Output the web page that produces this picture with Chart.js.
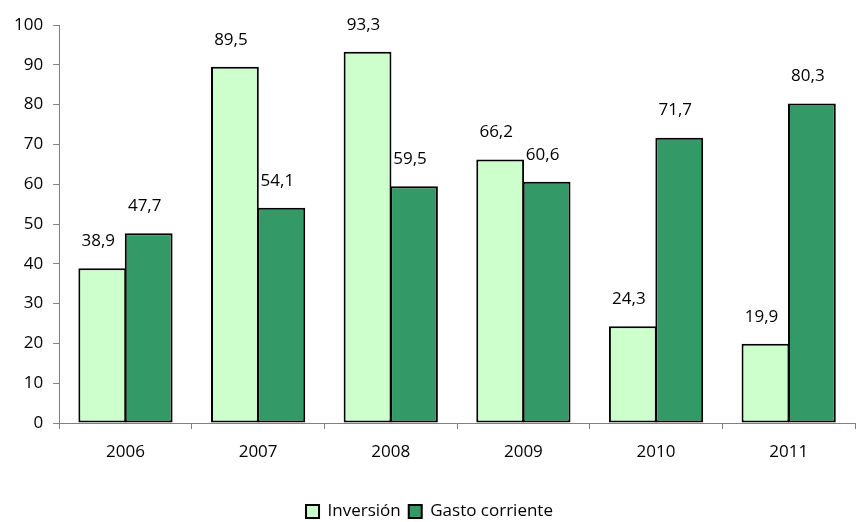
<!DOCTYPE html>
<html>
<head>
<meta charset="utf-8">
<script src="https://cdn.jsdelivr.net/npm/chart.js@4/dist/chart.umd.min.js"></script>
<style>
  html, body { margin: 0; padding: 0; background: #fff; }
  #wrap { width: 857px; height: 522px; }
</style>
</head>
<body>
<div id="wrap"><canvas id="myChart" width="857" height="522"></canvas></div>
<script>
const years = ['2006', '2007', '2008', '2009', '2010', '2011'];
const inversion = [38.9, 89.5, 93.3, 66.2, 24.3, 19.9];
const gastoCorriente = [47.7, 54.1, 59.5, 60.6, 71.7, 80.3];
const yTicks = [0, 10, 20, 30, 40, 50, 60, 70, 80, 90, 100];

const fontFamily = "'Open Sans', 'Liberation Sans', sans-serif";
Chart.defaults.font.family = fontFamily;
Chart.defaults.font.size = 17;
Chart.defaults.color = '#000';

// etiquetas de valor encima de cada barra
const valueLabels = {
    id: 'valueLabels',
    afterDatasetsDraw(chart) {
        const ctx = chart.ctx;
        ctx.save();
        ctx.font = '17px ' + fontFamily;
        ctx.fillStyle = '#000';
        ctx.textAlign = 'center';
        ctx.textBaseline = 'middle';
        chart.data.datasets.forEach((ds, i) => {
            chart.getDatasetMeta(i).data.forEach((bar, j) => {
                const txt = ds.data[j].toFixed(1).replace('.', ',');
                ctx.fillText(txt, bar.x - 4, bar.y - 27);
            });
        });
        ctx.restore();
    }
};

const ctx = document.getElementById('myChart').getContext('2d');
const myChart = new Chart(ctx, {
    type: 'bar',
    data: {
        labels: years,
        datasets: [{
                label: 'Inversión',
                data: inversion,
                backgroundColor: '#CCFFCC',
                borderColor: '#000',
                borderWidth: 2,
                borderSkipped: false
            }, {
                label: 'Gasto corriente',
                data: gastoCorriente,
                backgroundColor: '#339966',
                borderColor: '#000',
                borderWidth: 2,
                borderSkipped: false
            }]
    },
    options: {
        responsive: false,
        animation: false,
        layout: {
            padding: { top: 25, right: 2, left: 4, bottom: -8 }
        },
        plugins: {
            legend: {
                position: 'bottom',
                labels: {
                    font: { size: 17, family: fontFamily },
                    color: '#000',
                    boxWidth: 13,
                    boxHeight: 13,
                    padding: 8
                }
            },
            tooltip: { enabled: false }
        },
        datasets: {
            bar: {
                categoryPercentage: 0.7,
                barPercentage: 1.03
            }
        },
        scales: {
            x: {
                grid: {
                    drawOnChartArea: false,
                    color: '#808080',
                    tickLength: 6,
                    offset: true
                },
                border: { color: '#808080', width: 1 },
                ticks: {
                    font: { size: 17, family: fontFamily },
                    color: '#000',
                    padding: 13
                },
                afterFit: (scale) => { scale.height = 72; }
            },
            y: {
                min: 0,
                max: 100,
                afterBuildTicks: (scale) => {
                    scale.ticks = yTicks.map(v => ({ value: v }));
                },
                grid: {
                    drawOnChartArea: false,
                    color: '#808080',
                    tickLength: 6
                },
                border: { color: '#808080', width: 1 },
                ticks: {
                    font: { size: 17, family: fontFamily },
                    color: '#000',
                    padding: 10
                }
            }
        }
    },
    plugins: [valueLabels]
});
</script>
</body>
</html>
